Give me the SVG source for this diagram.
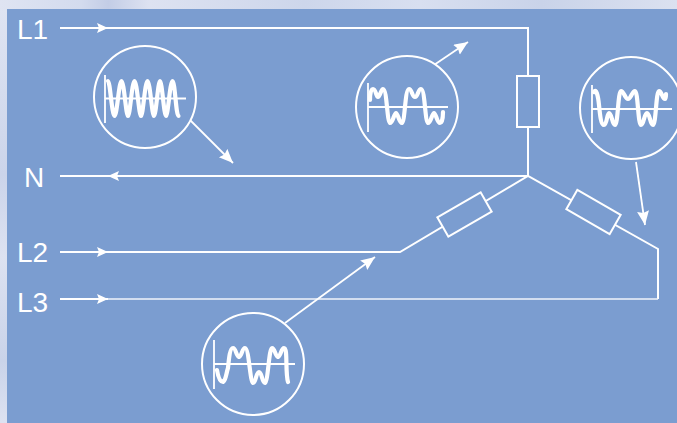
<svg xmlns="http://www.w3.org/2000/svg" width="677" height="423" viewBox="0 0 677 423">
<defs>
<linearGradient id="band" x1="0" y1="0" x2="1" y2="0">
<stop offset="0" stop-color="#dfe4f2"/><stop offset=".12" stop-color="#d3dbee"/><stop offset=".16" stop-color="#c3cde6"/><stop offset=".22" stop-color="#dde2f1"/><stop offset=".45" stop-color="#cdd6eb"/><stop offset=".62" stop-color="#d8dff0"/><stop offset=".8" stop-color="#c9d3e9"/><stop offset="1" stop-color="#dbe1f0"/>
</linearGradient>
<linearGradient id="side" x1="0" y1="0" x2="0" y2="1">
<stop offset="0" stop-color="#dfe4f2"/><stop offset=".4" stop-color="#cbd4ea"/><stop offset=".6" stop-color="#dde2f1"/><stop offset=".85" stop-color="#c9d3e9"/><stop offset="1" stop-color="#dde2f1"/>
</linearGradient>
<style>
.w{fill:none;stroke:#fff;stroke-width:2;stroke-linejoin:miter}
.l3{fill:none;stroke:#f1f5fb;stroke-width:1.6}
.t{fill:none;stroke:#fff;stroke-width:1.8}
.a{fill:none;stroke:#fff;stroke-width:1.8}
.c{fill:#7b9dd0;stroke:#fff;stroke-width:2}
.r{fill:#7b9dd0;stroke:#fff;stroke-width:2}
.wave{fill:none;stroke:#fff;stroke-width:4.2;stroke-linejoin:round;stroke-linecap:round}
.ax{fill:none;stroke:#fff;stroke-width:1.8}
.lb{font-family:"Liberation Sans",Arial,sans-serif;font-size:28px;fill:#fff}
</style>
<marker id="ah" markerWidth="14" markerHeight="12" refX="11" refY="5" orient="auto" markerUnits="userSpaceOnUse"><path d="M0 0L11 5L0 10L2 5Z" fill="#fff"/></marker>
<marker id="ahb" markerWidth="16" markerHeight="14" refX="14" refY="6" orient="auto" markerUnits="userSpaceOnUse"><path d="M0 0L14 6L0 12L2 6Z" fill="#fff"/></marker>
</defs>
<rect width="677" height="9" fill="url(#band)"/>
<rect y="9" width="7" height="414" fill="url(#side)"/>
<rect x="7" y="9" width="670" height="414" fill="#7b9dd0"/>
<g id="connectors">
<path class="w" d="M60 28H528V176M60 176H528M60 252H400L528 176L658 249V299"/>
<path class="l3" d="M60 299H658"/>
<path class="t" d="M60 28H108" marker-end="url(#ah)"/>
<path class="t" d="M60 252H108" marker-end="url(#ah)"/>
<path class="t" d="M60 299H108" marker-end="url(#ah)"/>
<path class="t" d="M130 176H108" marker-end="url(#ah)"/>
<path class="a" d="M190 120L233 163" marker-end="url(#ahb)"/>
<path class="a" d="M434 65L468 42" marker-end="url(#ahb)"/>
<path class="a" d="M636 162L645 225" marker-end="url(#ahb)"/>
<path class="a" d="M285 323L375 257" marker-end="url(#ahb)"/>
</g>
<g id="res1"><rect class="r" x="517" y="76" width="22" height="51"/></g>
<g id="res2"><rect class="r" x="439.500" y="203.500" width="50" height="22" transform="rotate(-30 464.500 214.500)"/></g>
<g id="res3"><rect class="r" x="568.500" y="201" width="50" height="22" transform="rotate(30 593.500 212)"/></g>
<g id="scope1">
<circle class="c" cx="145" cy="97" r="51"/>
<path class="ax" d="M105 75V123M105 98.500H186"/>
<path class="wave" d="M108 81C110 81 112 116 114.500 116C117 116 119 81 121.500 81C124 81 126 116 128 116C130 116 132 81 134.500 81C137 81 139 116 141 116C143 116 145 81 147.500 81C150 81 152 116 154 116C156 116 158 81 160 81C162 81 164 116 166 116C168 116 170 81 172.500 81C175 81 176 116 178.500 116"/>
</g>
<g id="scope2">
<circle class="c" cx="407" cy="107" r="51"/>
<path class="ax" d="M368 83V132M368 107H448"/>
<path class="wave" d="M370 100C370 93 371 89 373 89C376 89 376 97 378 97C380 97 381 89 383 89C387 89 387 122 390 123C393 123 394 113 396 113C398 113 399 123 402 123C405 122 405 89 409 89C412 89 412 97 415 97C418 97 418 89 421 89C425 89 425 122 428 123C431 123 432 113 434 113C436 113 437 123 440 123C442 123 443 117 443 112"/>
</g>
<g id="scope3">
<circle class="c" cx="253" cy="364" r="51"/>
<path class="ax" d="M214 340V389M214 364H295"/>
<path class="wave" d="M217 370C218 376 220 382 223 382C226 380 226 374 228 368C229 358 230 348 233 348C236 348 236 356 239 357C242 356 242 348 245 348C249 348 250 382 253 383C256 383 256 372 259 372C262 372 262 383 265 383C268 382 269 348 272 348C275 348 275 356 278 357C281 356 281 348 284 348C288 348 285 372 288 382"/>
</g>
<g id="scope4">
<circle class="c" cx="631" cy="108" r="51"/>
<path class="ax" d="M592 85V133M592 109H672"/>
<path class="wave" d="M594 92C596 88 598 95 599 105C600 115 601 125 604 125C607 125 607 113 609 113C612 113 612 125 615 125C618 125 618 91 621 91C624 91 625 99 628 99C631 99 632 91 635 91C638 91 638 125 641 125C644 125 644 113 647 113C650 113 650 125 653 125C656 125 656 91 659 91C662 91 662 99 665 99C666 99 666 96 666 94"/>
</g>
<text class="lb" x="17" y="39">L1</text>
<text class="lb" x="24" y="187">N</text>
<text class="lb" x="17" y="262">L2</text>
<text class="lb" x="17" y="312">L3</text>
</svg>
